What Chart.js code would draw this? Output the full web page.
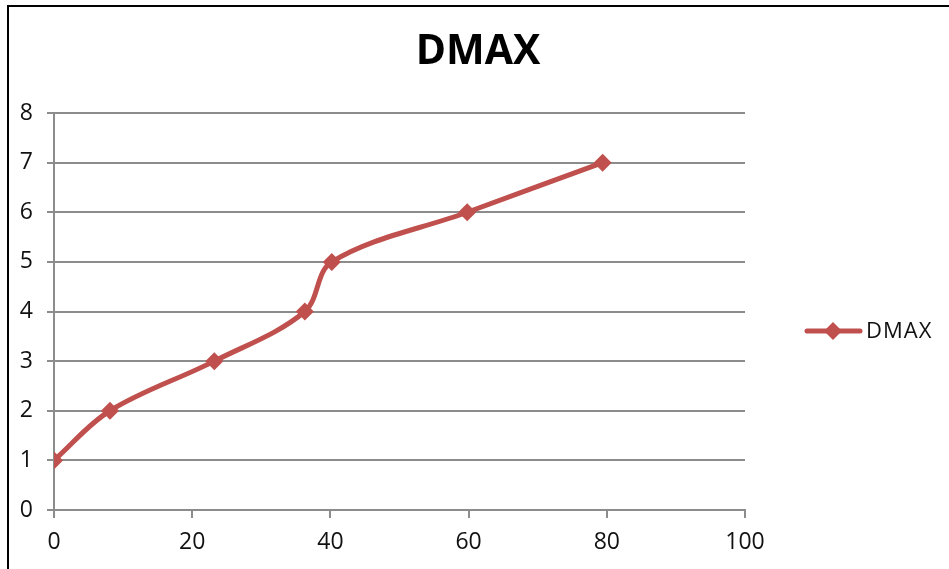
<!DOCTYPE html>
<html>
<head>
<meta charset="utf-8">
<script src="https://cdn.jsdelivr.net/npm/chart.js@4.4.1/dist/chart.umd.min.js"></script>
<style>
  html, body { margin: 0; padding: 0; background: #ffffff; }
  #wrap { position: relative; width: 949px; height: 569px; }
</style>
</head>
<body>
<div id="wrap"><canvas id="c" width="949" height="569"></canvas></div>
<script>
const chartTitle = "DMAX";
const seriesName = "DMAX";
const xValues = [0, 8.1, 23.2, 36.3, 40.2, 59.8, 79.4];
const yValues = [1, 2, 3, 4, 5, 6, 7];
const xTicks = [0, 20, 40, 60, 80, 100];
const yTicks = [0, 1, 2, 3, 4, 5, 6, 7, 8];

const RED = '#C0504D';
const GRID = '#8c8c8c';
const FONT = '"Open Sans", "DejaVu Sans", sans-serif';

const points = xValues.map((x, i) => ({ x: x, y: yValues[i] }));

const decor = {
  id: 'decor',
  beforeDraw(chart) {
    const ctx = chart.ctx;
    ctx.save();
    ctx.fillStyle = '#000';
    ctx.fillRect(7, 5, 2, 564);
    ctx.fillRect(7, 5, 942, 2);
    ctx.restore();
  },
  afterDraw(chart) {
    const ctx = chart.ctx;
    ctx.save();
    // title
    ctx.fillStyle = '#000';
    ctx.font = 'bold 41px ' + FONT;
    ctx.textAlign = 'center';
    ctx.textBaseline = 'middle';
    ctx.fillText(chartTitle, 478, 52);
    // legend
    const ly = 331;
    ctx.strokeStyle = RED;
    ctx.lineWidth = 5;
    ctx.lineCap = 'round';
    ctx.beginPath();
    ctx.moveTo(807, ly);
    ctx.lineTo(860, ly);
    ctx.stroke();
    ctx.fillStyle = RED;
    ctx.beginPath();
    const cx = 833, r = 9;
    ctx.moveTo(cx - r, ly);
    ctx.lineTo(cx, ly - r);
    ctx.lineTo(cx + r, ly);
    ctx.lineTo(cx, ly + r);
    ctx.closePath();
    ctx.fill();
    ctx.fillStyle = '#111';
    ctx.font = '22px ' + FONT;
    if ('letterSpacing' in ctx) ctx.letterSpacing = '1px';
    ctx.textAlign = 'left';
    ctx.textBaseline = 'middle';
    ctx.fillText(seriesName, 866, ly + 1);
    ctx.restore();
  }
};

new Chart(document.getElementById('c'), {
  type: 'line',
  data: {
    datasets: [{
      label: seriesName,
      data: points,
      borderColor: RED,
      backgroundColor: RED,
      borderWidth: 5,
      tension: 0.35,
      pointStyle: 'rectRot',
      pointRadius: 9,
      pointHoverRadius: 9,
      pointBorderWidth: 0,
      pointBackgroundColor: RED,
      fill: false
    }]
  },
  options: {
    responsive: false,
    animation: false,
    events: [],
    layout: { padding: { top: 113, right: 204, bottom: 0, left: 0 } },
    plugins: {
      legend: { display: false },
      title: { display: false },
      tooltip: { enabled: false }
    },
    scales: {
      x: {
        type: 'linear',
        min: 0,
        max: 100,
        afterFit(s) { s.height = 59; },
        afterBuildTicks(s) { s.ticks = xTicks.map(v => ({ value: v })); },
        grid: { drawOnChartArea: false, drawTicks: true, tickLength: 8, color: GRID, lineWidth: 2 },
        border: { display: true, color: GRID, width: 2 },
        ticks: { color: '#111', font: { family: FONT, size: 23 }, padding: 11, maxRotation: 0 }
      },
      y: {
        type: 'linear',
        min: 0,
        max: 8,
        afterFit(s) { s.width = 54; },
        afterBuildTicks(s) { s.ticks = yTicks.map(v => ({ value: v })); },
        grid: { drawOnChartArea: true, drawTicks: true, tickLength: 7, color: GRID, lineWidth: 2 },
        border: { display: true, color: GRID, width: 2 },
        ticks: { color: '#111', font: { family: FONT, size: 23 }, padding: 14 }
      }
    }
  },
  plugins: [decor]
});
</script>
</body>
</html>
